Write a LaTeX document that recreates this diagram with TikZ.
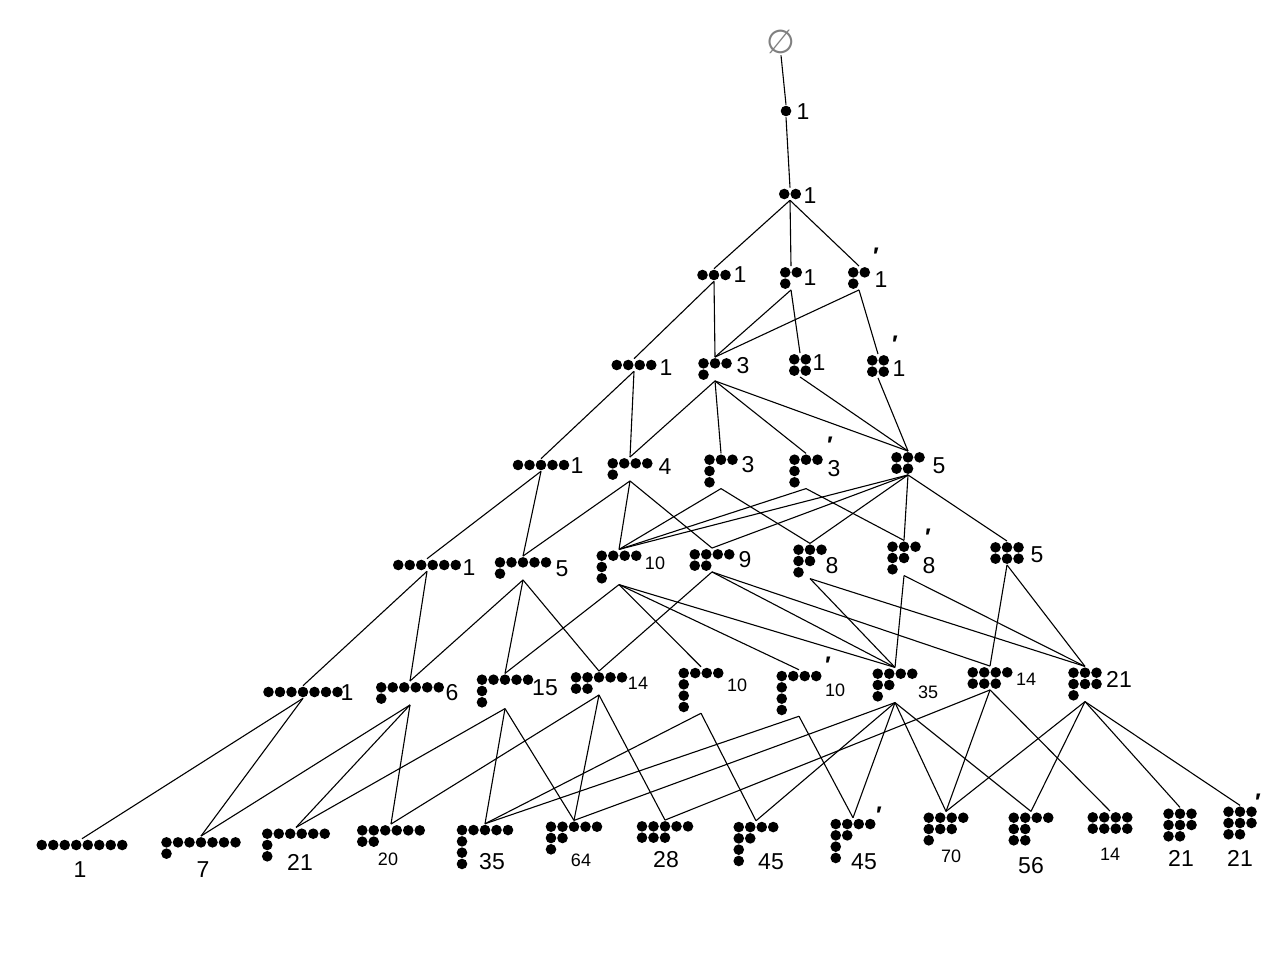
\documentclass[tikz,border=0pt]{standalone}
\usepackage{fontspec}
\setmainfont{Liberation Sans}
\newfontfamily\symf{DejaVu Sans}
\usetikzlibrary{positioning}

% dot diagram: one row of dots per entry of the list
\newcommand{\ydg}[1]{\tikz{\foreach \r [count=\i] in {#1}{\foreach \c in {1,...,\r}{\fill (\c*11.5pt,-\i*11.3pt) circle [radius=5.3pt];}}}}

\begin{document}
\begin{tikzpicture}[x=1pt,y=-1pt,-,line width=1.1pt,
    yd/.style={inner sep=0pt, outer sep=1pt},
    num/.style={inner sep=0pt, font=\fontsize{23}{23}\selectfont},
    snum/.style={inner sep=0pt, font=\fontsize{18}{18}\selectfont},
    prm/.style={inner sep=0pt, font=\fontsize{24}{24}\selectfont\bfseries},
    ]
  \useasboundingbox[fill=white] (0,0) rectangle (1265,979);

  % level 0 - 2
  \node[inner sep=1pt, text=gray, font=\fontsize{33}{33}\symf] (e) at (781,42) {∅};
  \node[yd] (a1) at (786,111) {\ydg{1}};   \node[num] (a1n) at (803,112) {1};
  \node[yd] (b2) at (790,194) {\ydg{2}};   \node[num] (b2n) at (810,196) {1};

  % level 3
  \node[yd] (c3) at (714,275) {\ydg{3}};     \node[num] (c3n) at (740,275) {1};
  \node[yd] (c21) at (791,278) {\ydg{2,1}};  \node[num] (c21n) at (810,278) {1};
  \node[yd] (c21p) at (859,278) {\ydg{2,1}}; \node[num] (c21pn) at (881,280) {1};
  \node[prm] (c21pm) at (876,256) {\char"2032};

  % level 4
  \node[yd] (d4) at (634,365) {\ydg{4}};     \node[num] (d4n) at (666,368) {1};
  \node[yd] (d31) at (715,369) {\ydg{3,1}};  \node[num] (d31n) at (743,366) {3};
  \node[yd] (d22) at (800,365) {\ydg{2,2}};  \node[num] (d22n) at (819,363) {1};
  \node[yd] (d22p) at (878,366) {\ydg{2,2}}; \node[num] (d22pn) at (899,369) {1};
  \node[prm] (d22pm) at (895,344) {\char"2032};

  % level 5
  \node[yd] (f5) at (541,465) {\ydg{5}};        \node[num] (f5n) at (577,466) {1};
  \node[yd] (f41) at (630,469) {\ydg{4,1}};     \node[num] (f41n) at (665,467) {4};
  \node[yd] (f311) at (721,471) {\ydg{3,1,1}};  \node[num] (f311n) at (748,465) {3};
  \node[yd] (f311p) at (806,471) {\ydg{3,1,1}}; \node[num] (f311pn) at (834,469) {3};
  \node[prm] (f311pm) at (830,445) {\char"2032};
  \node[yd] (f32) at (908,463) {\ydg{3,2}};     \node[num] (f32n) at (939,466) {5};

  % level 6
  \node[yd] (g6) at (427,565) {\ydg{6}};         \node[num] (g6n) at (469,568) {1};
  \node[yd] (g51) at (523,568) {\ydg{5,1}};      \node[num] (g51n) at (562,569) {5};
  \node[yd] (g411) at (619,567) {\ydg{4,1,1}};   \node[snum] (g411n) at (655,563) {10};
  \node[yd] (g42) at (712,560) {\ydg{4,2}};      \node[num] (g42n) at (745,560) {9};
  \node[yd] (g321) at (810,561) {\ydg{3,2,1}};   \node[num] (g321n) at (832,566) {8};
  \node[yd] (g321p) at (904,558) {\ydg{3,2,1}};  \node[num] (g321pn) at (929,566) {8};
  \node[prm] (g321pm) at (928,537) {\char"2032};
  \node[yd] (g33) at (1007,553) {\ydg{3,3}};     \node[num] (g33n) at (1037,555) {5};

  % level 7
  \node[yd] (h7) at (303,692) {\ydg{7}};            \node[num] (h7n) at (347,693) {1};
  \node[yd] (h61) at (410,693) {\ydg{6,1}};         \node[num] (h61n) at (452,693) {6};
  \node[yd] (h511) at (505,691) {\ydg{5,1,1}};      \node[num] (h511n) at (545,688) {15};
  \node[yd] (h52) at (599,683) {\ydg{5,2}};         \node[snum] (h52n) at (638,683) {14};
  \node[yd] (h4111) at (701,690) {\ydg{4,1,1,1}};   \node[snum] (h4111n) at (737,685) {10};
  \node[yd] (h4111p) at (799,693) {\ydg{4,1,1,1}};  \node[snum] (h4111pn) at (835,690) {10};
  \node[prm] (h4111pm) at (828,665) {\char"2032};
  \node[yd] (h421) at (895,685) {\ydg{4,2,1}};      \node[snum] (h421n) at (928,692) {35};
  \node[yd] (h43) at (990,678) {\ydg{4,3}};         \node[snum] (h43n) at (1026,679) {14};
  \node[yd] (h331) at (1085,684) {\ydg{3,3,1}};     \node[num] (h331n) at (1119,679) {21};

  % level 8
  \node[yd] (k8) at (82,845) {\ydg{8}};             \node[num] (k8n) at (80,870) {1};
  \node[yd] (k71) at (201,848) {\ydg{7,1}};         \node[num] (k71n) at (203,870) {7};
  \node[yd] (k611) at (296,845) {\ydg{6,1,1}};      \node[num] (k611n) at (300,862) {21};
  \node[yd] (k62) at (391,836) {\ydg{6,2}};         \node[snum] (k62n) at (388,859) {20};
  \node[yd] (k5111) at (485,847) {\ydg{5,1,1,1}};   \node[num] (k5111n) at (492,862) {35};
  \node[yd] (k521) at (574,838) {\ydg{5,2,1}};      \node[snum] (k521n) at (581,860) {64};
  \node[yd] (k53) at (665,832) {\ydg{5,3}};         \node[num] (k53n) at (666,860) {28};
  \node[yd] (k4211) at (756,844) {\ydg{4,2,1,1}};   \node[num] (k4211n) at (771,862) {45};
  \node[yd] (k4211p) at (853,841) {\ydg{4,2,1,1}};  \node[num] (k4211pn) at (864,862) {45};
  \node[prm] (k4211pm) at (879,815) {\char"2032};
  \node[yd] (k431) at (946,829) {\ydg{4,3,1}};      \node[snum] (k431n) at (951,856) {70};
  \node[yd] (k422) at (1031,829) {\ydg{4,2,2}};     \node[num] (k422n) at (1031,866) {56};
  \node[yd] (k44) at (1110,823) {\ydg{4,4}};        \node[snum] (k44n) at (1110,854) {14};
  \node[yd] (k332) at (1180,825) {\ydg{3,3,2}};     \node[num] (k332n) at (1181,858) {21};
  \node[yd] (k332p) at (1240,823) {\ydg{3,3,2}};    \node[num] (k332pn) at (1240,858) {21};
  \node[prm] (k332pm) at (1258,802) {\char"2032};

  % connectors, level by level
  \path (e.south) edge (a1.north)
        (a1.south) edge (b2.north);
  \path (b2.south) edge (c3.north)
        (b2.south) edge (c21.north)
        (b2.south) edge (c21p.north);
  \path (c3.south) edge (d4.north)
        (c3.south) edge (d31.north)
        (c21.south) edge (d31.north)
        (c21.south) edge (d22.north)
        (c21p.south) edge (d31.north)
        (c21p.south) edge (d22p.north);
  \path (d4.south) edge (f5.north)
        (d4.south) edge (f41.north)
        (d31.south) edge (f41.north)
        (d31.south) edge (f311.north)
        (d31.south) edge (f311p.north)
        (d31.south) edge (f32.north)
        (d22.south) edge (f32.north)
        (d22p.south) edge (f32.north);
  \path (f5.south) edge (g6.north)
        (f5.south) edge (g51.north)
        (f41.south) edge (g51.north)
        (f41.south) edge (g411.north)
        (f41.south) edge (g42.north)
        (f311.south) edge (g411.north)
        (f311.south) edge (g321.north)
        (f311p.south) edge (g411.north)
        (f311p.south) edge (g321p.north)
        (f32.south) edge (g411.north)
        (f32.south) edge (g42.north)
        (f32.south) edge (g321.north)
        (f32.south) edge (g321p.north)
        (f32.south) edge (g33.north);
  \path (g6.south) edge (h7.north)
        (g6.south) edge (h61.north)
        (g51.south) edge (h61.north)
        (g51.south) edge (h511.north)
        (g51.south) edge (h52.north)
        (g411.south) edge (h511.north)
        (g411.south) edge (h4111.north)
        (g411.south) edge (h4111p.north)
        (g411.south) edge (h421.north)
        (g42.south) edge (h52.north)
        (g42.south) edge (h421.north)
        (g42.south) edge (h43.north)
        (g321.south) edge (h421.north)
        (g321.south) edge (h331.north)
        (g321p.south) edge (h421.north)
        (g321p.south) edge (h331.north)
        (g33.south) edge (h43.north)
        (g33.south) edge (h331.north);
  \path (h7.south) edge (k8.north)
        (h7.south) edge (k71.north)
        (h61.south) edge (k71.north)
        (h61.south) edge (k611.north)
        (h61.south) edge (k62.north)
        (h511.south) edge (k611.north)
        (h511.south) edge (k5111.north)
        (h511.south) edge (k521.north)
        (h52.south) edge (k62.north)
        (h52.south) edge (k521.north)
        (h52.south) edge (k53.north)
        (h4111.south) edge (k5111.north)
        (h4111.south) edge (k4211.north)
        (h4111p.south) edge (k5111.north)
        (h4111p.south) edge (k4211p.north)
        (h421.south) edge (k521.north)
        (h421.south) edge (k4211.north)
        (h421.south) edge (k4211p.north)
        (h421.south) edge (k431.north)
        (h421.south) edge (k422.north)
        (h43.south) edge (k53.north)
        (h43.south) edge (k431.north)
        (h43.south) edge (k44.north)
        (h331.south) edge (k431.north)
        (h331.south) edge (k422.north)
        (h331.south) edge (k332.north)
        (h331.south) edge (k332p.north);
\end{tikzpicture}
\end{document}
